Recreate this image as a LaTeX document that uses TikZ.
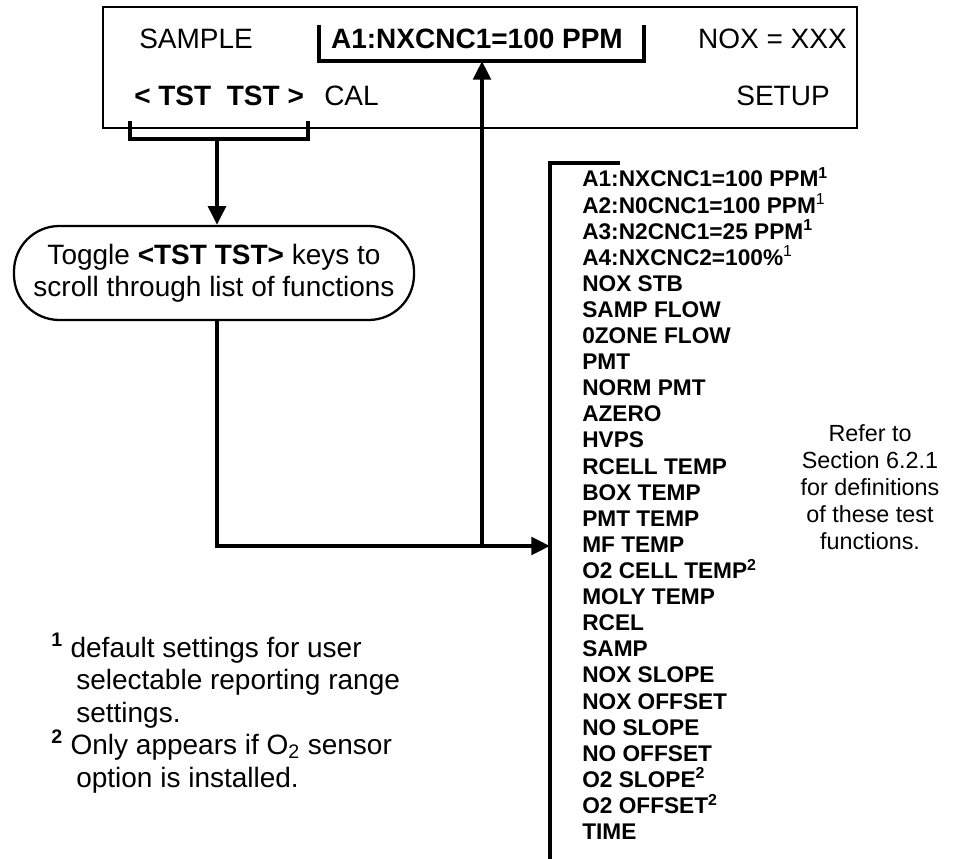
\documentclass[tikz,border=0pt]{standalone}
\usepackage{fontspec}
\setmainfont{Liberation Sans}
\usetikzlibrary{positioning}
\usetikzlibrary{arrows.meta}
\tikzset{>={Triangle[length=14pt,width=13pt]}}
\tikzset{panel/.style={draw,line width=1.3pt}}
\tikzset{lcd/.style={inner sep=0pt,font=\fontsize{21}{24}\selectfont}}
\tikzset{lcdbf/.style={inner sep=0pt,font=\bfseries\fontsize{21}{24}\selectfont}}
\tikzset{brack/.style={line width=3pt}}
\tikzset{flow/.style={line width=3.2pt}}
\tikzset{hint/.style={draw,line width=1.7pt,rounded corners=34pt,align=center,inner sep=0pt,font=\fontsize{21}{24}\selectfont}}
\tikzset{func/.style={inner sep=0pt,anchor=base west,font=\bfseries\fontsize{17}{19.6}\selectfont}}
\tikzset{note/.style={inner sep=0pt,anchor=base west,font=\fontsize{21}{24}\selectfont}}
\tikzset{side/.style={inner sep=0pt,align=center,font=\fontsize{17.5}{20.2}\selectfont}}

\begin{document}
\begin{tikzpicture}[x=0.75pt,y=-0.75pt]
        \useasboundingbox (0,0) rectangle (954,859);

        \coordinate (pnw) at (103,7);
        \coordinate (pse) at (857,128);
        \draw[panel] (pnw) rectangle (pse);

        \node[lcd, anchor=base west] (sample) at (139,49) {SAMPLE};
        \node[lcdbf, anchor=base] (conc) at (477,49) {A1:NXCNC1=100 PPM};
        \node[lcd, anchor=base east] (nox) at (847,49) {NOX = XXX};
        \node[lcdbf, anchor=base west] (tst) at (134,106) {< TST\ \ TST >};
        \node[lcd, anchor=base west] (cal) at (324,106) {CAL};
        \node[lcd, anchor=base east] (setup) at (830,106) {SETUP};

        \coordinate (concl) at (319,25);
        \coordinate (concr) at (644,25);
        \coordinate (concm) at (482,61);
        \draw[brack] (concl) |- (concm) -| (concr);

        \coordinate (tstl) at (130,121);
        \coordinate (tstr) at (308,121);
        \coordinate (tstm) at (217,139);
        \draw[brack] (tstl) |- (tstm) -| (tstr);

        \node[hint, minimum width=300pt, minimum height=70.5pt] (hint) at (214,273)
         {Toggle \textbf{<TST TST>} keys to\\scroll through list of functions};

        \coordinate (bartop) at (550,163);
        \coordinate (barstub) at (620,163);
        \coordinate (barend) at (550,859);
        \draw[flow] (barstub) -- (bartop) -- (barend);

        \coordinate (mfrow) at (550,546);
        \coordinate (hintout) at (hint.south -| tstm);
        \coordinate (fork) at (mfrow -| concm);

        \draw[flow,->] (tstm) -- (tstm |- hint.north);
        \draw[flow,->] (hintout) |- (mfrow);
        \draw[flow,->] (fork) -- (concm);

        \foreach \fn [count=\i from 0] in {A1:NXCNC1=100 PPM\textsuperscript{1},
          A2:N0CNC1=100 PPM\textsuperscript{\mdseries 1},
          A3:N2CNC1=25 PPM\textsuperscript{1},
          A4:NXCNC2=100\%\textsuperscript{\mdseries 1},
          NOX STB, SAMP FLOW, 0ZONE FLOW, PMT, NORM PMT, AZERO, HVPS,
          RCELL TEMP, BOX TEMP, PMT TEMP, MF TEMP,
          O2 CELL TEMP\textsuperscript{2}, MOLY TEMP, RCEL, SAMP,
          NOX SLOPE, NOX OFFSET, NO SLOPE, NO OFFSET,
          O2 SLOPE\textsuperscript{2}, O2 OFFSET\textsuperscript{2}, TIME}
          \node[func] (fn\i) at (582,187+26.1*\i) {\fn};

        \node[side] (refer) at (870,487) {Refer to\\Section 6.2.1\\for definitions\\of these test\\functions.};

        \node[note] (noteA) at (51,657) {\textsuperscript{\bfseries 1} default settings for user};
        \node[note] (noteB) at (76,689) {selectable reporting range};
        \node[note] (noteC) at (76,722) {settings.};
        \node[note] (noteD) at (51,754) {\textsuperscript{\bfseries 2} Only appears if O\textsubscript{2} sensor};
        \node[note] (noteE) at (76,787) {option is installed.};
    \end{tikzpicture}
\end{document}
